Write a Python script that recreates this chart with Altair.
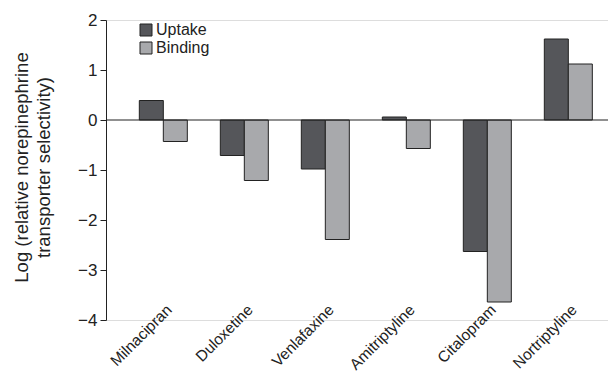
import altair as alt
import pandas as pd

drugs = ["Milnacipran", "Duloxetine", "Venlafaxine", "Amitriptyline", "Citalopram", "Nortriptyline"]
uptake = [0.39, -0.71, -0.98, 0.06, -2.63, 1.62]
binding = [-0.43, -1.21, -2.39, -0.57, -3.64, 1.12]
series = ["Uptake", "Binding"]
colors = ["#55565a", "#a8a9ac"]
y_ticks = [2, 1, 0, -1, -2, -3, -4]

rows = []
for d, u, b in zip(drugs, uptake, binding):
    rows.append({"drug": d, "series": "Uptake", "value": u})
    rows.append({"drug": d, "series": "Binding", "value": b})
df = pd.DataFrame(rows)

FONT = "Liberation Sans"

bars = alt.Chart(df).mark_bar(stroke="#222222", strokeWidth=1, opacity=1).encode(
    x=alt.X("drug:N", sort=drugs,
            scale=alt.Scale(paddingInner=0.4074, paddingOuter=0.3025, align=0.68),
            axis=alt.Axis(title=None, labelAngle=-45, labelAlign="right", labelBaseline="top",
                          labelFontSize=15.5, labelFont=FONT, labelColor="#222222",
                          labelPadding=-18, labelOffset=1, ticks=False, tickSize=0, domain=False)),
    xOffset=alt.XOffset("series:N", sort=series, scale=alt.Scale(domain=series, paddingInner=0, paddingOuter=0)),
    y=alt.Y("value:Q",
            scale=alt.Scale(domain=[-4, 2], nice=False, zero=True),
            axis=alt.Axis(values=y_ticks, format="d", grid=False, tickSize=6, tickColor="#222222",
                          domainColor="#222222", labelFontSize=17, labelFont=FONT, labelColor="#222222",
                          labelPadding=3,
                          title=["Log (relative norepinephrine", "transporter selectivity)"],
                          titleFont=FONT, titleFontSize=18.5, titleFontWeight="normal", titleColor="#222222",
                          titleAngle=-90, titleX=-85, titleY=147, titleAlign="center",
                          titleBaseline="middle", titleLineHeight=22)),
    color=alt.Color("series:N", sort=series,
                    scale=alt.Scale(domain=series, range=colors),
                    legend=alt.Legend(title=None, orient="none", legendX=32, legendY=2,
                                      symbolType="square", symbolSize=144, symbolStrokeColor="#222222",
                                      symbolStrokeWidth=1, symbolOpacity=1, labelFontSize=16,
                                      labelFont=FONT, labelColor="#222222", labelOffset=2,
                                      rowPadding=2)),
)

zero = alt.Chart(pd.DataFrame({"v": [0]})).mark_rule(color="#222222", strokeWidth=1.2).encode(
    y=alt.Y("v:Q")
)

chart = alt.layer(bars, zero).properties(
    width=502, height=300,
    autosize=alt.AutoSizeParams(type="none"),
    padding={"left": 106, "top": 20, "right": 0, "bottom": 55},
).configure_view(stroke=None).configure(background="white")

chart.save("out.html", embed_options={"renderer": "svg", "actions": False})
